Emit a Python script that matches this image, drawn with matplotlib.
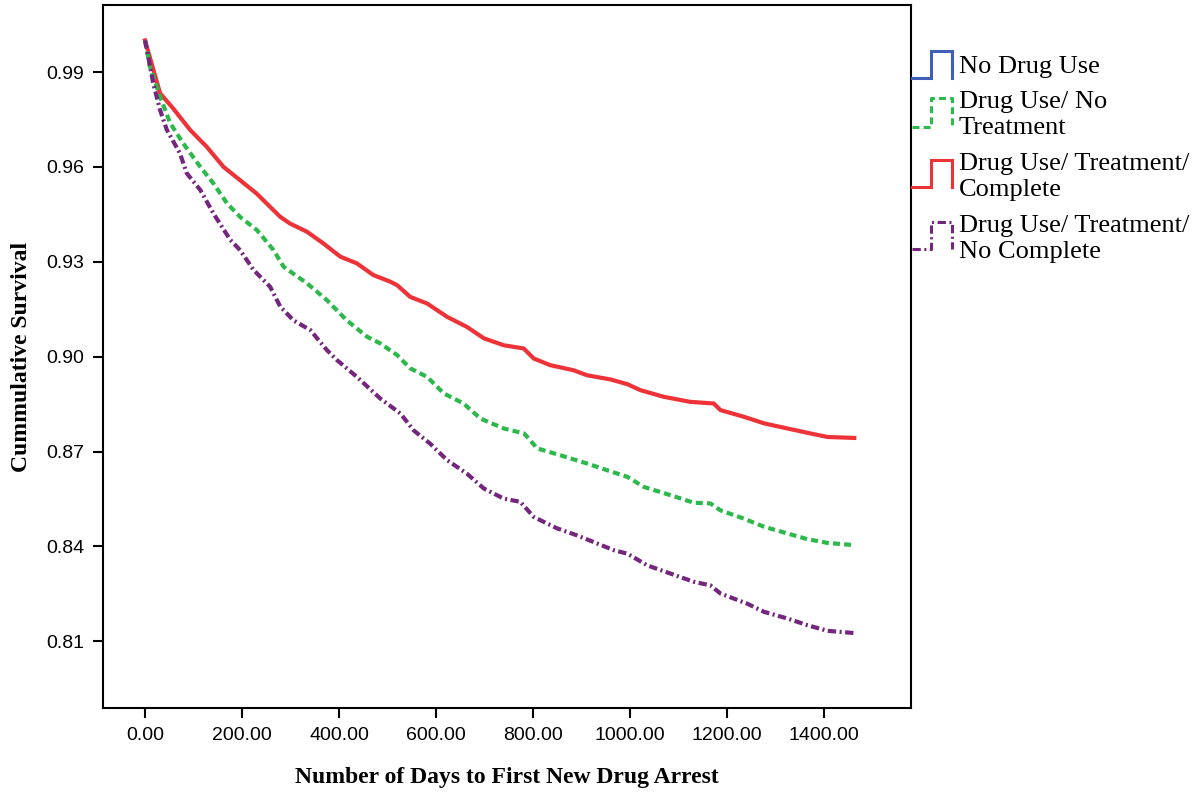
import matplotlib
matplotlib.use("Agg")
import matplotlib.pyplot as plt

plt.rcParams['lines.scale_dashes'] = False

# ---- data ----
days_complete = [0, 31, 58, 93, 127, 162, 196, 230, 279, 299, 334, 368, 403, 437, 471, 506,
                 520, 547, 582, 623, 664, 699, 740, 781, 802, 836, 884, 912, 960, 995,
                 1022, 1070, 1125, 1173, 1187, 1235, 1277, 1325, 1373, 1408, 1463]
surv_complete = [1.0, 0.9833, 0.9785, 0.9717, 0.9664, 0.9600, 0.9558, 0.9516, 0.9442, 0.9421,
                 0.9395, 0.9358, 0.9316, 0.9295, 0.9258, 0.9237, 0.9226, 0.9189, 0.9168, 0.9126,
                 0.9094, 0.9058, 0.9036, 0.9026, 0.8994, 0.8973, 0.8957, 0.8941, 0.8928, 0.8913,
                 0.8894, 0.8873, 0.8857, 0.8852, 0.8831, 0.8810, 0.8789, 0.8773, 0.8757, 0.8746,
                 0.8743]

days_notreat = [0, 10, 31, 52, 79, 114, 141, 169, 196, 231, 265, 286, 334, 375, 416, 458,
                485, 520, 547, 582, 616, 657, 692, 740, 782, 809, 857, 912, 953, 995,
                1029, 1084, 1132, 1166, 1187, 1235, 1277, 1325, 1366, 1408, 1463]
surv_notreat = [1.0, 0.9917, 0.9822, 0.9738, 0.9674, 0.9600, 0.9548, 0.9485, 0.9442, 0.9400,
                0.9337, 0.9284, 0.9232, 0.9179, 0.9115, 0.9063, 0.9042, 0.9005, 0.8963, 0.8936,
                0.8884, 0.8852, 0.8804, 0.8773, 0.8757, 0.8710, 0.8688, 0.8662, 0.8641, 0.8620,
                0.8588, 0.8562, 0.8538, 0.8536, 0.8514, 0.8488, 0.8462, 0.8441, 0.8423, 0.8411,
                0.8404]

days_nocomplete = [0, 4, 17, 31, 45, 72, 86, 114, 141, 176, 196, 224, 258, 279, 306, 341,
                   375, 396, 437, 485, 527, 554, 588, 623, 664, 699, 740, 774, 802, 850,
                   891, 933, 967, 995, 1036, 1084, 1132, 1166, 1187, 1242, 1277, 1325, 1366,
                   1408, 1463]
surv_nocomplete = [1.0, 0.9970, 0.9864, 0.9780, 0.9717, 0.9643, 0.9580, 0.9527, 0.9453, 0.9369,
                   0.9337, 0.9274, 0.9221, 0.9158, 0.9115, 0.9084, 0.9021, 0.8989, 0.8936, 0.8868,
                   0.8820, 0.8767, 0.8725, 0.8673, 0.8630, 0.8583, 0.8551, 0.8541, 0.8493, 0.8457,
                   0.8435, 0.8409, 0.8388, 0.8377, 0.8340, 0.8314, 0.8288, 0.8277, 0.8251, 0.8219,
                   0.8193, 0.8172, 0.8151, 0.8133, 0.8126]

x_ticks = [0, 200, 400, 600, 800, 1000, 1200, 1400]
x_tick_labels = ["0.00", "200.00", "400.00", "600.00", "800.00", "1000.00", "1200.00", "1400.00"]
y_ticks = [0.81, 0.84, 0.87, 0.90, 0.93, 0.96, 0.99]
y_tick_labels = ["0.81", "0.84", "0.87", "0.90", "0.93", "0.96", "0.99"]

legend_labels = ["No Drug Use", "Drug Use/ No\nTreatment", "Drug Use/ Treatment/\nComplete",
                 "Drug Use/ Treatment/\nNo Complete"]

# ---- styles ----
c_blue = "#4060B8"
c_green = "#2DB84B"
c_red = "#EE3338"
c_purple = "#74267F"
ls_green = (0, (5, 3))
ls_purple = (0, (6, 2.5, 1.5, 2.5))

W, H = 1203, 796
fig = plt.figure(figsize=(W / 100, H / 100), dpi=100)
ax = fig.add_axes([103 / W, 1 - 708 / H, (911 - 103) / W, (708 - 5) / H])

ax.plot(days_complete, surv_complete, color=c_red, lw=3.0, solid_joinstyle='round')
ax.plot(days_notreat, surv_notreat, color=c_green, lw=3.0, linestyle=ls_green)
ax.plot(days_nocomplete, surv_nocomplete, color=c_purple, lw=3.0, linestyle=ls_purple)

ax.set_xlim(-86.7, 1580)
ax.set_ylim(0.7889, 1.0112)
ax.set_xticks(x_ticks)
ax.set_xticklabels(x_tick_labels, family="Liberation Sans", fontsize=14)
ax.set_yticks(y_ticks)
ax.set_yticklabels(y_tick_labels, family="Liberation Sans", fontsize=14)
ax.tick_params(direction='out', length=7.5, width=1.5, pad=6)
for s in ax.spines.values():
    s.set_linewidth(1.5)

ax.set_xlabel("Number of Days to First New Drug Arrest", family="Liberation Serif",
              fontweight='bold', fontsize=17, labelpad=17)
ax.set_ylabel("Cummulative Survival", family="Liberation Serif",
              fontweight='bold', fontsize=17, labelpad=10)

# ---- legend drawn in figure pixel coordinates ----
ov = fig.add_axes([0, 0, 1, 1])
ov.set_xlim(0, W)
ov.set_ylim(H, 0)
ov.axis('off')

entries = [
    (c_blue, '-', 78, 51, 67),
    (c_green, ls_green, 127, 98, 115),
    (c_red, '-', 187, 160, 177),
    (c_purple, ls_purple, 249, 222, 239),
]
for (col, ls, ylo, yhi, ytxt), lab in zip(entries, legend_labels):
    ov.plot([912, 931, 931, 952, 952], [ylo, ylo, yhi, yhi, ylo], color=col, lw=2.2,
            linestyle=ls, solid_joinstyle='miter')
    ov.text(959, ytxt, lab, family="Liberation Serif", fontsize=19, va='center', ha='left',
            linespacing=1.2)

fig.savefig("out.png", dpi=100)
